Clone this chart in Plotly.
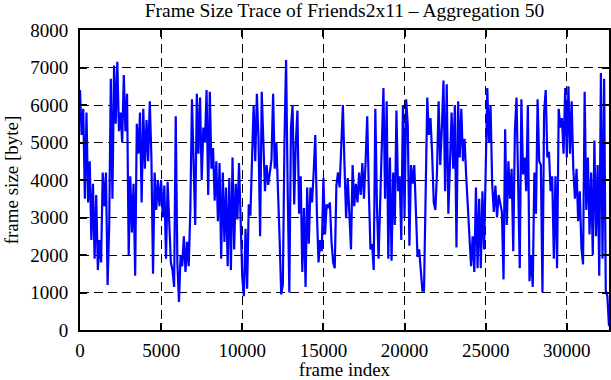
import plotly.graph_objects as go

title_text = "Frame Size Trace of Friends2x11 \u2013 Aggregation 50"
x_label = "frame index"
y_label = "frame size [byte]"

frame_step = 100
frame_sizes = [
    6400, 5200, 5900, 3500, 5800, 3400, 4500, 2400, 3900, 1900,
    3600, 1600, 2400, 1800, 4200, 3300, 4200, 1200, 2800, 6700,
    3500, 7050, 5500, 7150, 5300, 5800, 5000, 6800, 5300, 6300,
    2000, 4100, 2600, 3900, 1450, 5500, 4700, 5800, 3400, 5900,
    4300, 5600, 4500, 6100, 4600, 1500, 4200, 3200, 4000, 3300,
    4000, 3000, 3850, 1900, 3950, 2800,
    1800, 1600, 1150, 5700, 1800, 750, 2000, 1700, 2500, 1550,
    2350, 1700, 3200, 6150, 4400, 2800, 6300, 4700, 6200, 4000,
    5400, 5000, 6400, 3600, 6350, 4300, 4850, 3450, 4500, 2900,
    4450, 1900, 4200, 2350, 3800, 1700, 4050, 1600, 4600, 2150,
    3900, 2950, 4450, 2950, 1400, 900, 2700, 1100, 3350, 3050,
    4700, 6000, 4500, 6300,
    5100, 2500, 6350, 4800, 3700, 4400, 3870, 4200, 4550, 6300,
    4300, 5000, 3900, 2450, 950, 1200, 5000, 7200, 3700, 1000,
    5400, 6000, 3350, 5000, 5850, 3100, 4100, 1550, 3250, 1150,
    3800, 2300, 3800, 3400, 4200, 5200, 3100, 1800, 2400, 2100,
    4050, 2550, 3350, 3250, 3400, 2350, 1800, 1650, 3850, 4200,
    3800, 4800,
    6000, 4400, 2980, 4050, 3150, 2150, 4400, 3300, 3900, 3400,
    4200, 3600, 4450, 3500, 4500, 5700, 3700, 2150, 2300, 1600,
    5900, 3300, 1900, 3250, 5000, 6450, 3500, 6100, 1900, 4600,
    1850, 4200, 2800, 5850, 3700, 4100, 2400, 6000, 3000, 6150,
    5450, 2250, 4400, 3900, 4400, 2850, 1950, 2150, 1600, 1050,
    1050, 3800,
    6200, 5200, 5650, 4700, 3400, 3200, 4200, 6100, 4400, 5400,
    6650, 3700, 6550, 3100, 4750, 5800, 4300, 6000, 2200, 6100,
    4600, 5900, 4500, 5100, 4100, 3250, 2350, 1700, 2500, 1550,
    3800, 1650, 3500, 1650, 3700, 2150, 4200, 6450, 5000, 6000,
    3900, 3150, 3850, 3000, 3600, 3400, 3150, 1350, 5350, 2800,
    4500, 3500, 4300,
    2100, 5300, 6200, 3400, 1650, 6150, 4150, 4600, 3700, 6000,
    1300, 2000, 1150, 4200, 3100, 6150, 4500, 4400, 1000, 5800,
    6400, 4600, 4750, 3700, 4100, 1900, 4100, 1650, 5900, 5400,
    5650, 4700, 6450, 4600, 6500, 4700, 6100, 4300, 3500, 4300,
    2900, 3700, 2200, 1750, 6350, 3200, 4600, 2550, 4200, 2000,
    5050, 2500, 4400, 1450, 6850, 1900, 6700, 1050, 900, 100,
]
frame_index = [i * frame_step for i in range(len(frame_sizes))]

x_ticks = [0, 5000, 10000, 15000, 20000, 25000, 30000]
y_ticks = [0, 1000, 2000, 3000, 4000, 5000, 6000, 7000, 8000]

font_family = "Liberation Serif, Times New Roman, serif"

fig = go.Figure()
fig.add_trace(go.Scatter(
    x=frame_index, y=frame_sizes, mode="lines",
    line=dict(color="#0000ff", width=2.2),
    showlegend=False,
))

axis_common = dict(
    showline=True, linecolor="black", linewidth=2, mirror="ticks",
    ticks="inside", ticklen=7, tickwidth=1.5, tickcolor="black",
    showgrid=True, gridcolor="black", gridwidth=1, griddash="9px,5px",
    zeroline=False, automargin=False,
    tickfont=dict(family=font_family, size=19, color="black"),
)

fig.update_layout(
    width=611, height=380,
    margin=dict(l=80, r=2, t=30, b=50),
    paper_bgcolor="white", plot_bgcolor="white",
    font=dict(family=font_family, size=19, color="black"),
    title=dict(text=title_text, xref="paper", x=0.5, xanchor="center",
               yref="container", y=0.99, yanchor="top", automargin=False,
               font=dict(family=font_family, size=19.5, color="black")),
    xaxis=dict(range=[0, 32600], tickvals=x_ticks, ticktext=[str(v) for v in x_ticks],
               ticklabelstandoff=2,
               title=dict(text=x_label, standoff=2,
                          font=dict(family=font_family, size=19)),
               **axis_common),
    yaxis=dict(range=[0, 8000], tickvals=y_ticks, ticktext=[str(v) for v in y_ticks],
               ticklabelstandoff=6,
               title=dict(text=y_label, standoff=7,
                          font=dict(family=font_family, size=19)),
               **axis_common),
)

fig.write_html("out.html", config={"displayModeBar": False},
               post_script="document.body.style.margin='0';")
